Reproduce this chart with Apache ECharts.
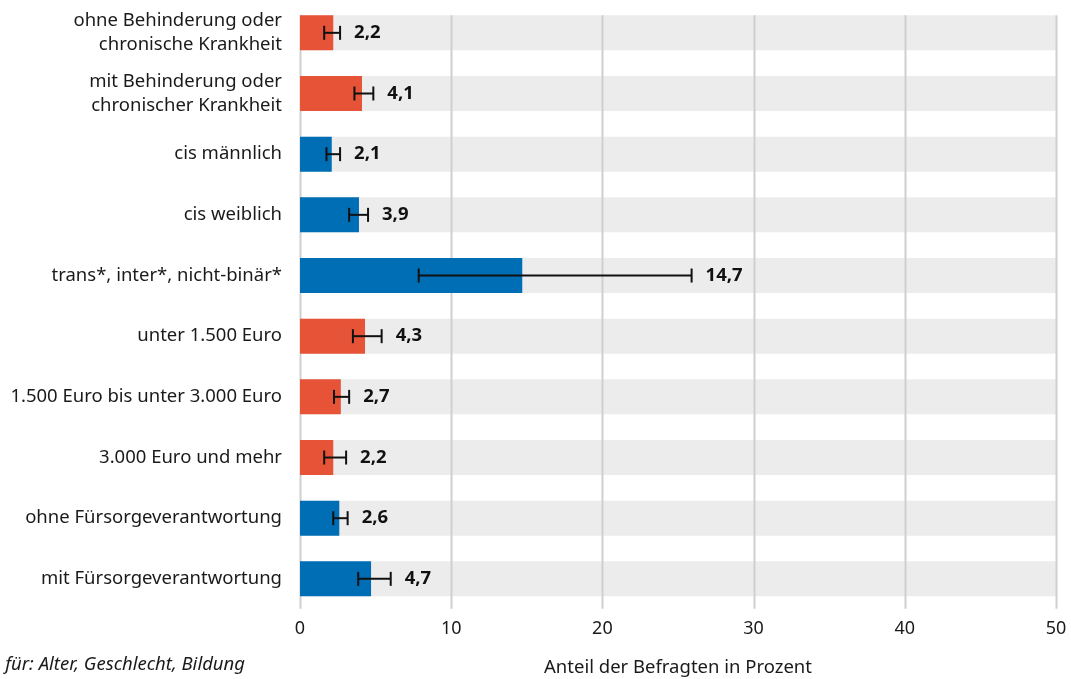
<!DOCTYPE html>
<html>
<head>
<meta charset="utf-8">
<script src="https://cdn.jsdelivr.net/npm/echarts@6/dist/echarts.min.js"></script>
<style>
html,body{margin:0;padding:0;background:#fff;overflow:hidden;}
#chart{width:1071px;height:679px;}
</style>
</head>
<body>
<div id="chart"></div>
<script>
var categories = [
  "ohne Behinderung oder\nchronische Krankheit",
  "mit Behinderung oder\nchronischer Krankheit",
  "cis männlich",
  "cis weiblich",
  "trans*, inter*, nicht-binär*",
  "unter 1.500 Euro",
  "1.500 Euro bis unter 3.000 Euro",
  "3.000 Euro und mehr",
  "ohne Fürsorgeverantwortung",
  "mit Fürsorgeverantwortung"
];
var values = [2.2, 4.1, 2.1, 3.9, 14.7, 4.3, 2.7, 2.2, 2.6, 4.7];
var lowerCI = [1.6, 3.6, 1.75, 3.25, 7.85, 3.5, 2.25, 1.6, 2.2, 3.85];
var upperCI = [2.65, 4.85, 2.65, 4.5, 25.9, 5.4, 3.25, 3.05, 3.15, 6.0];
var groups = ["red", "red", "blue", "blue", "blue", "red", "red", "red", "blue", "blue"];
var xTicks = [0, 10, 20, 30, 40, 50];
var footnote = "für: Alter, Geschlecht, Bildung";
var axisTitle = "Anteil der Befragten in Prozent";

var colorMap = { red: "#e65337", blue: "#006eb4" };
var FONT = "Noto Sans";
var BAR_W = 35;

var chart = echarts.init(document.getElementById('chart'), null, { renderer: 'canvas' });

var barData = values.map(function (v, i) {
  return { value: v, itemStyle: { color: colorMap[groups[i]] } };
});
var bgData = categories.map(function () { return 50; });
var errData = values.map(function (v, i) { return [lowerCI[i], upperCI[i], i, v]; });

var option = {
  animation: false,
  backgroundColor: '#ffffff',
  grid: { left: 300, width: 756, top: 2.5, height: 606.7, containLabel: false, outerBoundsMode: 'none' },
  xAxis: {
    type: 'value', min: 0, max: 50, interval: 10,
    name: axisTitle, nameLocation: 'middle', nameGap: 49,
    nameTextStyle: { fontFamily: FONT, fontSize: 18.5, color: '#1a1a1a' },
    axisLine: { show: false }, axisTick: { show: false },
    axisLabel: { fontFamily: FONT, fontSize: 18, color: '#1a1a1a', margin: 11 },
    splitLine: { show: false }
  },
  yAxis: {
    type: 'category', data: categories, inverse: true,
    axisLine: { show: false }, axisTick: { show: false },
    axisLabel: { fontFamily: FONT, fontSize: 18.5, color: '#1a1a1a', margin: 18, lineHeight: 24, align: 'right' }
  },
  graphic: [{
    type: 'text', right: 1071 - 245, top: 655,
    style: { text: footnote, font: 'italic 18.5px "Noto Sans"', fill: '#1a1a1a' }
  }],
  series: [
    {
      type: 'bar', data: bgData, barWidth: BAR_W, silent: true, z: 1,
      itemStyle: { color: '#ebeceb' }, barGap: '-100%'
    },
    {
      type: 'custom', z: 2, silent: true,
      data: xTicks.map(function (t) { return [t]; }),
      renderItem: function (params, api) {
        var x = api.coord([api.value(0), 0])[0];
        var yTop = api.coord([0, 0])[1] - BAR_W / 2;
        var yBot = api.coord([0, categories.length - 1])[1] + 30;
        return {
          type: 'line',
          shape: { x1: Math.round(x) + 0.5, y1: yTop, x2: Math.round(x) + 0.5, y2: yBot },
          style: { stroke: '#cfcfcf', lineWidth: 2 }
        };
      },
      encode: { x: 0 }
    },
    {
      type: 'bar', data: barData, barWidth: BAR_W, z: 3, barGap: '-100%'
    },
    {
      type: 'custom', z: 4, silent: true, data: errData,
      encode: { x: [0, 1], y: 2 },
      renderItem: function (params, api) {
        var idx = api.value(2);
        var lo = api.coord([api.value(0), idx]);
        var hi = api.coord([api.value(1), idx]);
        var endRight = Math.max(hi[0], api.coord([api.value(3), idx])[0]);
        var y = lo[1];
        var cap = 7;
        var st = { stroke: '#111', lineWidth: 2 };
        var v = api.value(3);
        return {
          type: 'group',
          children: [
            { type: 'line', shape: { x1: lo[0], y1: y, x2: hi[0], y2: y }, style: st },
            { type: 'line', shape: { x1: lo[0], y1: y - cap, x2: lo[0], y2: y + cap }, style: st },
            { type: 'line', shape: { x1: hi[0], y1: y - cap, x2: hi[0], y2: y + cap }, style: st },
            {
              type: 'text', x: endRight + 14, y: y,
              style: {
                text: v.toFixed(1).replace('.', ','),
                font: 'bold 18.5px "Noto Sans"', fill: '#111',
                textAlign: 'left', textVerticalAlign: 'middle'
              }
            }
          ]
        };
      }
    }
  ]
};
chart.setOption(option);
</script>
</body>
</html>
